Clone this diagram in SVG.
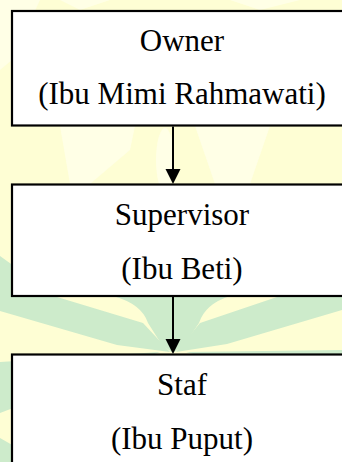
<svg xmlns="http://www.w3.org/2000/svg" width="342" height="462" viewBox="0 0 342 462">
  <style>
    .box { fill: #ffffff; stroke: #000000; stroke-width: 2.2; }
    .lbl { font-family: "Liberation Serif", "Times New Roman", serif; font-size: 31px; fill: #000000; text-anchor: middle; }
    .edge { stroke: #000000; stroke-width: 2; fill: none; }
    .head { fill: #000000; }
    .grn { fill: #cdebcb; }
    .lite { fill: #ffffe6; }
  </style>
  <g id="background">
    <rect x="0" y="0" width="342" height="462" fill="#fefed4"/>
    <polygon class="lite" points="0,0 40,0 12,60 0,70"/>
    <polygon class="lite" points="60,0 110,0 80,10"/>
    <polygon class="lite" points="230,0 300,0 260,10"/>
    <polygon class="lite" points="60,126 135,126 130,150 90,184 70,184"/>
    <ellipse class="lite" cx="165" cy="160" rx="9" ry="32"/>
    <polygon class="lite" points="195,126 270,126 250,184 215,184"/>
    <polygon class="grn" points="0,256 57,297 143,323 170,352 117,345 0,311"/>
    <path class="grn" d="M113,296 Q142,304 148,323 L162,345 L173,353 L184,345 L199,323 Q205,304 230,296 Z"/>
    <polygon class="grn" points="342,252 277,297 200,323 176,352 227,344 342,310"/>
    <polygon class="grn" points="0,362 160,352 0,413"/>
    <polygon class="grn" points="342,350 186,352 342,395"/>
    <polygon class="grn" points="0,438 14,446 14,462 0,462"/>
  </g>
  <g id="connectors">
    <line class="edge" x1="173" y1="126.5" x2="173" y2="171"/>
    <polygon class="head" points="165.5,169 180.5,169 173,184"/>
    <line class="edge" x1="173" y1="297" x2="173" y2="341"/>
    <polygon class="head" points="165.5,339 180.5,339 173,354"/>
  </g>
  <g id="owner">
    <rect class="box" x="12" y="11" width="340" height="114.5"/>
    <text class="lbl" x="182" y="51">Owner</text>
    <text class="lbl" x="182" y="104">(Ibu Mimi Rahmawati)</text>
  </g>
  <g id="supervisor">
    <rect class="box" x="12" y="184.5" width="340" height="111.5"/>
    <text class="lbl" x="182" y="225">Supervisor</text>
    <text class="lbl" x="182" y="279">(Ibu Beti)</text>
  </g>
  <g id="staf">
    <rect class="box" x="12" y="354.5" width="340" height="120"/>
    <text class="lbl" x="182" y="395">Staf</text>
    <text class="lbl" x="182" y="449">(Ibu Puput)</text>
  </g>
</svg>
